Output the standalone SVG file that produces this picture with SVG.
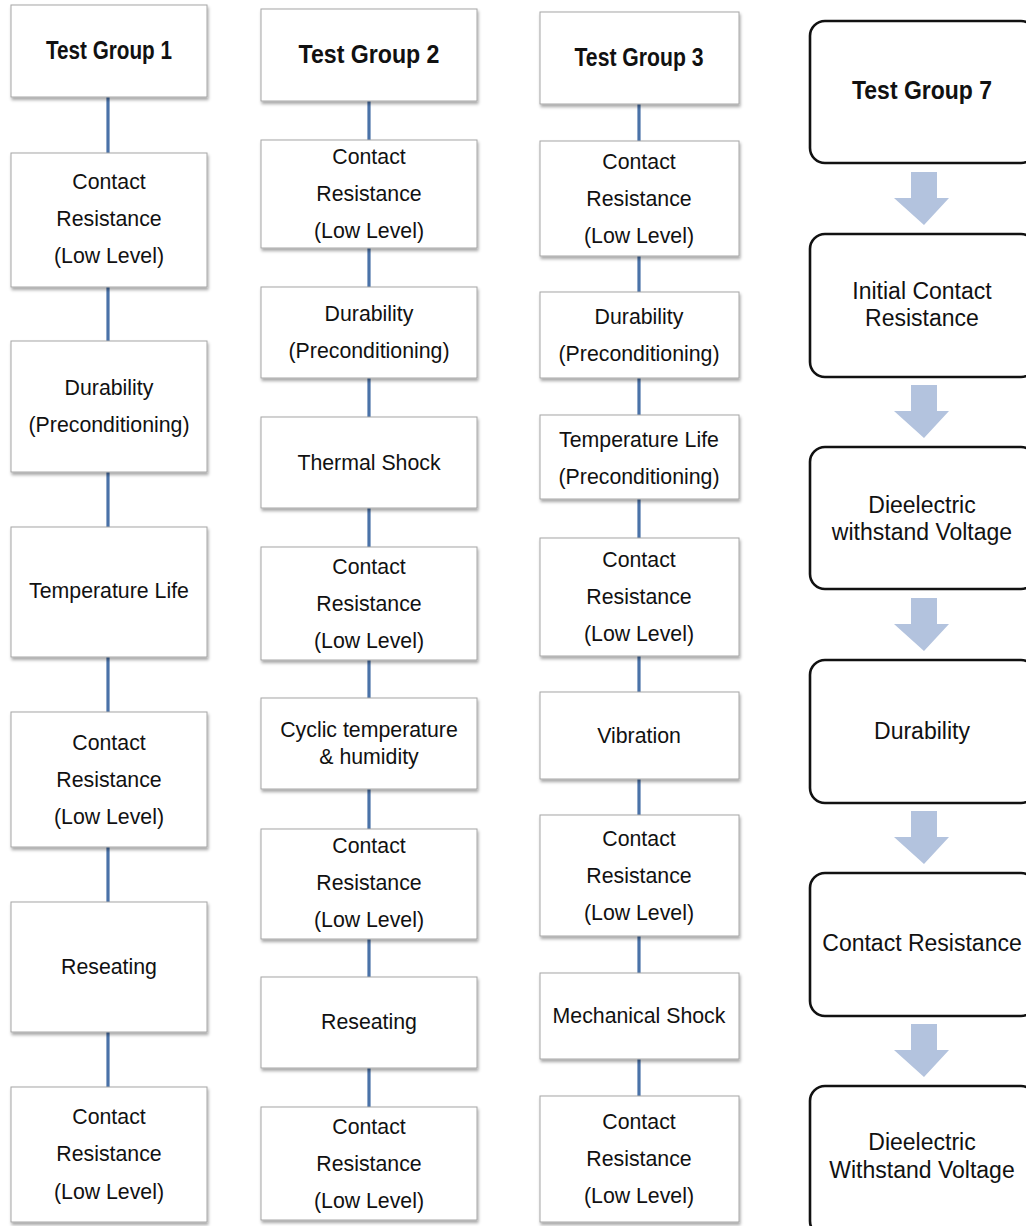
<svg xmlns="http://www.w3.org/2000/svg" width="1026" height="1226" viewBox="0 0 1026 1226">
<defs>
<filter id="sh" x="-10%" y="-10%" width="125%" height="130%">
<feDropShadow dx="1" dy="2.5" stdDeviation="1.6" flood-color="#000" flood-opacity="0.35"/>
</filter>
<style>
.b{fill:#fff;stroke:#a6a6a6;stroke-width:1;filter:url(#sh)}
.r{fill:#fff;stroke:#111;stroke-width:2.6}
.t{font-family:"Liberation Sans",Arial,sans-serif;font-size:21.3px;fill:#111;text-anchor:middle}
.h{font-family:"Liberation Sans",Arial,sans-serif;font-size:25px;font-weight:bold;fill:#111;text-anchor:middle}
.c{stroke:#4a72a8;stroke-width:3.2;fill:none}
.a{fill:#b3c3de}
.t4{font-family:"Liberation Sans",Arial,sans-serif;font-size:23px;fill:#111;text-anchor:middle}
</style>
</defs>
<rect width="1026" height="1226" fill="#fff"/>
<g id="connectors">
<line class="c" x1="108" y1="97" x2="108" y2="1087"/>
<line class="c" x1="369" y1="101" x2="369" y2="1107"/>
<line class="c" x1="639" y1="104" x2="639" y2="1096"/>
<polygon class="a" points="911,172 937,172 937,198 949,198 924,225 894,198 911,198"/>
<polygon class="a" points="911,385 937,385 937,411 949,411 924,438 894,411 911,411"/>
<polygon class="a" points="911,598 937,598 937,624 949,624 924,651 894,624 911,624"/>
<polygon class="a" points="911,811 937,811 937,837 949,837 924,864 894,837 911,837"/>
<polygon class="a" points="911,1024 937,1024 937,1050 949,1050 924,1077 894,1050 911,1050"/>
</g>
<!-- Column 1 -->
<g id="tg1"><rect class="b" x="11" y="5" width="196" height="92"/><text class="h" x="109" y="59" textLength="126" lengthAdjust="spacingAndGlyphs">Test Group 1</text></g>
<g id="c1n1"><rect class="b" x="11" y="153" width="196" height="134"/><text class="t" x="109" y="189">Contact</text><text class="t" x="109" y="226">Resistance</text><text class="t" x="109" y="263">(Low Level)</text></g>
<g id="c1n2"><rect class="b" x="11" y="341" width="196" height="131"/><text class="t" x="109" y="395">Durability</text><text class="t" x="109" y="432">(Preconditioning)</text></g>
<g id="c1n3"><rect class="b" x="11" y="527" width="196" height="130"/><text class="t" x="109" y="598">Temperature Life</text></g>
<g id="c1n4"><rect class="b" x="11" y="712" width="196" height="135"/><text class="t" x="109" y="750">Contact</text><text class="t" x="109" y="787">Resistance</text><text class="t" x="109" y="824">(Low Level)</text></g>
<g id="c1n5"><rect class="b" x="11" y="902" width="196" height="130"/><text class="t" x="109" y="974">Reseating</text></g>
<g id="c1n6"><rect class="b" x="11" y="1087" width="196" height="135"/><text class="t" x="109" y="1124">Contact</text><text class="t" x="109" y="1161">Resistance</text><text class="t" x="109" y="1199">(Low Level)</text></g>
<!-- Column 2 -->
<g id="tg2"><rect class="b" x="261" y="9" width="216" height="92"/><text class="h" x="369" y="63" textLength="141" lengthAdjust="spacingAndGlyphs">Test Group 2</text></g>
<g id="c2n1"><rect class="b" x="261" y="140" width="216" height="108"/><text class="t" x="369" y="164">Contact</text><text class="t" x="369" y="201">Resistance</text><text class="t" x="369" y="238">(Low Level)</text></g>
<g id="c2n2"><rect class="b" x="261" y="287" width="216" height="91"/><text class="t" x="369" y="321">Durability</text><text class="t" x="369" y="358">(Preconditioning)</text></g>
<g id="c2n3"><rect class="b" x="261" y="417" width="216" height="91"/><text class="t" x="369" y="470">Thermal Shock</text></g>
<g id="c2n4"><rect class="b" x="261" y="547" width="216" height="113"/><text class="t" x="369" y="574">Contact</text><text class="t" x="369" y="611">Resistance</text><text class="t" x="369" y="648">(Low Level)</text></g>
<g id="c2n5"><rect class="b" x="261" y="698" width="216" height="91"/><text class="t" x="369" y="737">Cyclic temperature</text><text class="t" x="369" y="764">&amp; humidity</text></g>
<g id="c2n6"><rect class="b" x="261" y="829" width="216" height="110"/><text class="t" x="369" y="853">Contact</text><text class="t" x="369" y="890">Resistance</text><text class="t" x="369" y="927">(Low Level)</text></g>
<g id="c2n7"><rect class="b" x="261" y="977" width="216" height="91"/><text class="t" x="369" y="1029">Reseating</text></g>
<g id="c2n8"><rect class="b" x="261" y="1107" width="216" height="113"/><text class="t" x="369" y="1134">Contact</text><text class="t" x="369" y="1171">Resistance</text><text class="t" x="369" y="1208">(Low Level)</text></g>
<!-- Column 3 -->
<g id="tg3"><rect class="b" x="540" y="12" width="199" height="92"/><text class="h" x="639" y="66" textLength="129" lengthAdjust="spacingAndGlyphs">Test Group 3</text></g>
<g id="c3n1"><rect class="b" x="540" y="141" width="199" height="115"/><text class="t" x="639" y="169">Contact</text><text class="t" x="639" y="206">Resistance</text><text class="t" x="639" y="243">(Low Level)</text></g>
<g id="c3n2"><rect class="b" x="540" y="292" width="199" height="86"/><text class="t" x="639" y="324">Durability</text><text class="t" x="639" y="361">(Preconditioning)</text></g>
<g id="c3n3"><rect class="b" x="540" y="415" width="199" height="84"/><text class="t" x="639" y="447">Temperature Life</text><text class="t" x="639" y="484">(Preconditioning)</text></g>
<g id="c3n4"><rect class="b" x="540" y="538" width="199" height="118"/><text class="t" x="639" y="567">Contact</text><text class="t" x="639" y="604">Resistance</text><text class="t" x="639" y="641">(Low Level)</text></g>
<g id="c3n5"><rect class="b" x="540" y="692" width="199" height="87"/><text class="t" x="639" y="743">Vibration</text></g>
<g id="c3n6"><rect class="b" x="540" y="815" width="199" height="121"/><text class="t" x="639" y="846">Contact</text><text class="t" x="639" y="883">Resistance</text><text class="t" x="639" y="920">(Low Level)</text></g>
<g id="c3n7"><rect class="b" x="540" y="973" width="199" height="86"/><text class="t" x="639" y="1023">Mechanical Shock</text></g>
<g id="c3n8"><rect class="b" x="540" y="1096" width="199" height="126"/><text class="t" x="639" y="1129">Contact</text><text class="t" x="639" y="1166">Resistance</text><text class="t" x="639" y="1203">(Low Level)</text></g>
<!-- Column 4 -->
<g id="tg7"><rect class="r" x="810" y="21" width="226" height="142" rx="15"/><text class="h" x="922" y="99" textLength="140" lengthAdjust="spacingAndGlyphs">Test Group 7</text></g>
<g id="c4n1"><rect class="r" x="810" y="234" width="226" height="143" rx="15"/><text class="t4" x="922" y="299">Initial Contact</text><text class="t4" x="922" y="326">Resistance</text></g>
<g id="c4n2"><rect class="r" x="810" y="447" width="226" height="142" rx="15"/><text class="t4" x="922" y="513">Dieelectric</text><text class="t4" x="922" y="540">withstand Voltage</text></g>
<g id="c4n3"><rect class="r" x="810" y="660" width="226" height="143" rx="15"/><text class="t4" x="922" y="739">Durability</text></g>
<g id="c4n4"><rect class="r" x="810" y="873" width="226" height="143" rx="15"/><text class="t4" x="922" y="951">Contact Resistance</text></g>
<g id="c4n5"><rect class="r" x="810" y="1086" width="226" height="150" rx="15"/><text class="t4" x="922" y="1178" dy="-28">Dieelectric</text><text class="t4" x="922" y="1178">Withstand Voltage</text></g>
</svg>
